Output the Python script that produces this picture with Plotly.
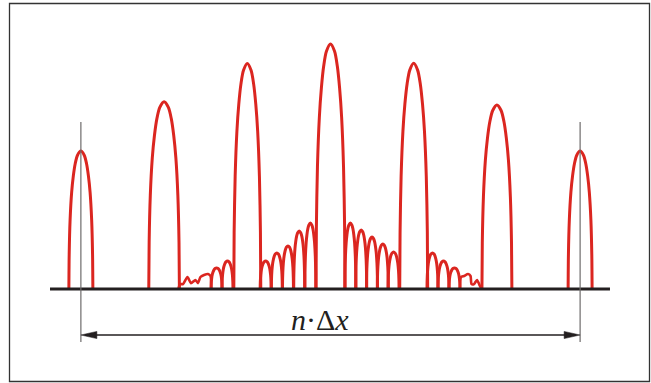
import plotly.graph_objects as go

# ---------------- data (x in units of Δx, y relative to central maximum) -------------
main_order  = [-3, -2, -1, 0, 1, 2, 3]
main_height = [0.563, 0.764, 0.920, 1.000, 0.921, 0.751, 0.563]
main_halfw  = [0.144, 0.184, 0.162, 0.174, 0.168, 0.180, 0.144]

side_x = [-1.369, -1.238,
          -0.779, -0.645, -0.511, -0.376, -0.242,
          0.239, 0.369, 0.499, 0.629, 0.758,
          1.226, 1.358, 1.490]
side_h = [0.086, 0.114,
          0.114, 0.147, 0.176, 0.237, 0.269,
          0.269, 0.241, 0.212, 0.184, 0.151,
          0.147, 0.114, 0.086]
side_halfw = 0.066

noise_left_x = [-1.827, -1.809, -1.773, -1.719, -1.677, -1.623, -1.593, -1.563, -1.520, -1.472, -1.442, -1.434]
noise_left_y = [0.0, 0.020, 0.020, 0.049, 0.024, 0.037, 0.024, 0.049, 0.057, 0.061, 0.053, 0.0]
noise_right_x = [1.556, 1.569, 1.605, 1.653, 1.683, 1.695, 1.725, 1.761, 1.791, 1.815]
noise_right_y = [0.0, 0.049, 0.053, 0.061, 0.053, 0.020, 0.020, 0.037, 0.016, 0.0]

# measured lobe profile: fraction of height vs fraction of base half-width
arch_rise  = [0.0, 0.25, 0.5, 0.7, 0.82, 0.91, 0.97, 1.0]
arch_width = [1.0, 0.975, 0.9, 0.77, 0.63, 0.47, 0.28, 0.0]

span_orders = [-3, 3]
label_text = "<i>n</i>·Δ<i>x</i>"

# ---------------- geometry ----------------
W, H = 651, 383
x_range = [-3.972, 3.852]
y_range = [-0.3837, 1.1796]
px_x = W / (x_range[1] - x_range[0])
px_y = H / (y_range[1] - y_range[0])


def arch(c, h, w):
    xs = [c - w * u for u in arch_width] + [c + w * u for u in arch_width[-2::-1]]
    ys = [h * v for v in arch_rise] + [h * v for v in arch_rise[-2::-1]]
    return xs, ys


cx, cy = [], []
for c, h, w in zip(main_order, main_height, main_halfw):
    xs, ys = arch(c, h, w)
    cx += xs + [None]
    cy += ys + [None]
for c, h in zip(side_x, side_h):
    xs, ys = arch(c, h, side_halfw)
    cx += xs + [None]
    cy += ys + [None]

red = "#db2620"
fig = go.Figure()
fig.add_trace(go.Scatter(x=cx, y=cy, mode="lines", line=dict(color=red, width=3, shape="spline", smoothing=0.8),
                         connectgaps=False, hoverinfo="skip", showlegend=False))
for nx, ny in [(noise_left_x, noise_left_y), (noise_right_x, noise_right_y)]:
    fig.add_trace(go.Scatter(x=nx, y=ny, mode="lines", line=dict(color=red, width=2.6, shape="spline", smoothing=0.6),
                             hoverinfo="skip", showlegend=False))

dark = "#231f20"
shapes = []
# frame
shapes.append(dict(type="rect", xref="paper", yref="paper", x0=9.5 / W, x1=649.5 / W,
                   y0=1 - 381.5 / H, y1=1 - 3.5 / H, line=dict(color="#333333", width=1.3)))
# baseline
shapes.append(dict(type="line", xref="x", yref="y", x0=-3.371, x1=3.359, y0=0, y1=0,
                   line=dict(color=dark, width=3), layer="above"))
# vertical markers
v_top = (289 - 122) / px_y
v_bot = -(342 - 289) / px_y
for xo in span_orders:
    shapes.append(dict(type="line", xref="x", yref="y", x0=xo, x1=xo, y0=v_bot, y1=v_top,
                       line=dict(color="#6e6b6b", width=1.2), layer="above"))
# arrow
arrow_y = -(335 - 289) / px_y
head_len = 16 / px_x
head_half = 3.6 / px_y
shapes.append(dict(type="line", xref="x", yref="y", x0=span_orders[0] + head_len * 0.8, x1=span_orders[1] - head_len * 0.8,
                   y0=arrow_y, y1=arrow_y, line=dict(color=dark, width=1.3)))
for tip, d in [(span_orders[0], 1), (span_orders[1], -1)]:
    path = (f"M {tip} {arrow_y} L {tip + d * head_len} {arrow_y + head_half} "
            f"L {tip + d * head_len} {arrow_y - head_half} Z")
    shapes.append(dict(type="path", xref="x", yref="y", path=path, fillcolor=dark,
                       line=dict(color=dark, width=0.5)))

fig.update_layout(
    width=W, height=H, autosize=False,
    margin=dict(l=0, r=0, t=0, b=0),
    paper_bgcolor="white", plot_bgcolor="white",
    xaxis=dict(range=x_range, visible=False, fixedrange=True),
    yaxis=dict(range=y_range, visible=False, fixedrange=True),
    shapes=shapes,
    annotations=[dict(x=(320 - 330.5) / px_x, y=-(319 - 289) / px_y, xref="x", yref="y",
                      text=label_text, showarrow=False, xanchor="center", yanchor="middle",
                      font=dict(family="Liberation Serif, Times New Roman, serif", size=30, color=dark))],
)

fig.write_html("out.html", config={"displayModeBar": False},
               post_script="document.body.style.margin='0';document.body.style.overflow='hidden';")
